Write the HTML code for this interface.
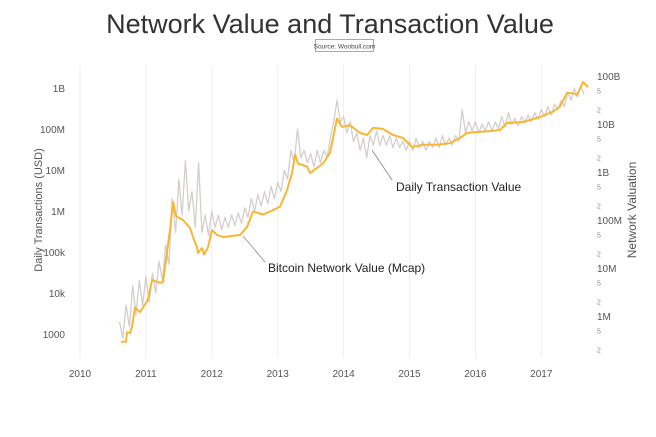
<!DOCTYPE html>
<html><head><meta charset="utf-8"><style>
body{margin:0;background:#fff;font-family:"Liberation Sans",sans-serif}
svg text{font-family:"Liberation Sans",sans-serif}
</style></head><body>
<svg id="c" width="656" height="432">
<text x="330" y="33" text-anchor="middle" font-size="27" fill="#333" font-weight="300">Network Value and Transaction Value</text>
<rect x="315.5" y="39.5" width="58" height="12" fill="#fff" stroke="#aaa"/>
<text x="344.5" y="48.5" text-anchor="middle" font-size="6.5" fill="#444">Source: Woobull.com</text>
<text transform="translate(42,210) rotate(-90)" text-anchor="middle" font-size="11" fill="#555">Daily Transactions (USD)</text>
<text transform="translate(636,210) rotate(-90)" text-anchor="middle" font-size="12" fill="#555">Network Valuation</text>
<g id="grid"></g><g id="axes"></g><g id="series"></g>
<line x1="372" y1="150" x2="392" y2="180" stroke="#888" stroke-width="0.8"/>
<text x="396" y="191" font-size="12" fill="#222">Daily Transaction Value</text>
<line x1="243" y1="236" x2="265" y2="262" stroke="#888" stroke-width="0.8"/>
<text x="268" y="272" font-size="12" fill="#222">Bitcoin Network Value (Mcap)</text>
</svg>
<script>
const xYears=[2010,2011,2012,2013,2014,2015,2016,2017];
const leftTicks=[1e3,1e4,1e5,1e6,1e7,1e8,1e9];
const leftTickLabels=["1000","10k","100k","1M","10M","100M","1B"];
const rightTicks=[1e6,1e7,1e8,1e9,1e10,1e11];
const rightTickLabels=["1M","10M","100M","1B","10B","100B"];
const txStart=2010.6;
const txStep=0.05;
const txValues=[2e3,8e2,5e3,1.5e3,1.5e4,3e3,2e4,5e3,
2.5e4,6e3,3e4,1e4,6e4,2e4,1.5e5,5e4,2e6,3e5,6e6,8e5,1.7e7,1e6,3e6,4e5,1.5e7,3e5,8e5,2.5e5,
1e6,4e5,8e5,3.5e5,7e5,4e5,8e5,4.5e5,9e5,5e5,1.2e6,7e5,2e6,1e6,2.5e6,1.3e6,3e6,1.5e6,4e6,2e6,
5e6,3e6,1e7,6e6,3e7,1.5e7,1e8,2e7,3e7,1.5e7,2.5e7,1.2e7,3e7,1.5e7,3e7,2e7,6e7,1.5e8,5e8,1.5e8,
2e8,8e7,1.5e8,5e7,8e7,3e7,6e7,2e7,7e7,4e7,9e7,4e7,7e7,4e7,7e7,3.5e7,6e7,3.5e7,5e7,3e7,
5e7,3e7,6e7,3.5e7,5e7,3e7,5e7,3.5e7,6e7,3.5e7,7e7,4e7,6e7,4e7,7e7,5e7,3e8,8e7,1.5e8,9e7,
1.5e8,8e7,1.3e8,9e7,1.5e8,9e7,1.5e8,1e8,2e8,1.1e8,2.5e8,1.3e8,1.8e8,1.2e8,2e8,1.4e8,2.2e8,1.5e8,2.5e8,1.7e8,
3e8,2e8,3.5e8,2.2e8,4e8,3e8,5e8,3.5e8,8e8,5e8,1e9,6e8,1.1e9,7e8];
const mcapYears=[2010.622,2010.698,2010.713,2010.759,2010.789,2010.835,2010.910,2010.956,2011.032,2011.093,2011.214,2011.259,2011.320,2011.366,2011.411,2011.457,2011.563,2011.669,2011.715,2011.775,2011.791,2011.851,2011.882,2011.942,2012.003,2012.079,2012.170,2012.428,2012.534,2012.625,2012.777,2012.929,2013.035,2013.141,2013.217,2013.263,2013.308,2013.445,2013.490,2013.687,2013.794,2013.900,2013.976,2014.097,2014.249,2014.355,2014.446,2014.598,2014.750,2014.901,2015.038,2015.205,2015.417,2015.615,2015.766,2015.873,2016.024,2016.222,2016.373,2016.480,2016.722,2016.980,2017.178,2017.284,2017.390,2017.481,2017.542,2017.633,2017.709];
const mcapValues=[2.9e5,2.9e5,4.6e5,4.4e5,5.9e5,1.5e6,1.2e6,1.5e6,2.2e6,5.6e6,4.9e6,5.1e6,2.05e7,6.2e7,2.4e8,1.2e8,1e8,6.8e7,4.4e7,2.7e7,2.05e7,2.6e7,1.9e7,2.7e7,6.2e7,4.9e7,4.4e7,4.9e7,7.1e7,1.5e8,1.3e8,1.6e8,1.9e8,4.2e8,9.5e8,2.3e9,1.5e9,1.3e9,9.5e8,1.5e9,2.5e9,1.3e10,8.7e9,9.5e9,6.5e9,5.9e9,8.3e9,7.9e9,5.9e9,5.1e9,3.3e9,3.7e9,3.7e9,4e9,5.1e9,6.5e9,6.8e9,7.1e9,7.5e9,1.05e10,1.1e10,1.4e10,1.8e10,2.3e10,4.4e10,4.4e10,4e10,7.5e10,5.9e10];

const NS="http://www.w3.org/2000/svg";
const X=y=>80+(y-2010)*65.9;
const YL=v=>334-41*Math.log10(v/1e3);
const YR=v=>316-48*Math.log10(v/1e6);
function mk(tag,attrs,parent,txt){const e=document.createElementNS(NS,tag);for(const k in attrs)e.setAttribute(k,attrs[k]);if(txt!==undefined)e.textContent=txt;parent.appendChild(e);return e;}
const grid=document.getElementById('grid'),axes=document.getElementById('axes'),series=document.getElementById('series');
xYears.forEach(y=>{
  const l=mk('line',{x1:X(y),x2:X(y),y1:65,y2:358,stroke:'#eee','stroke-width':1},grid);
  
  
  const t=mk('text',{x:X(y),y:377,'text-anchor':'middle','font-size':10,fill:'#555'},axes,String(y));
  
  
});
leftTicks.forEach((v,i)=>{
  const t=mk('text',{x:65,y:YL(v)+4,'text-anchor':'end','font-size':10,fill:'#555'},axes,leftTickLabels[i]);
  
  
});
rightTicks.forEach((v,i)=>{
  const t=mk('text',{x:597,y:YR(v)+4,'font-size':10,fill:'#555'},axes,rightTickLabels[i]);
  
  
  [5,2].forEach(m=>{const mv=v/10*m; if(mv<1.5e5) return;
    const s=mk('text',{x:597,y:YR(mv)+3,'font-size':7,fill:'#888'},axes,String(m));
    
    });
});
let d='';txValues.forEach((v,i)=>{d+=(i?'L':'M')+X(txStart+i*txStep).toFixed(1)+','+YL(v).toFixed(1);});
const tx=mk('path',{d:d,fill:'none',stroke:'#d6cdcd','stroke-width':1.3,'stroke-linejoin':'round'},series);


let d2='';mcapValues.forEach((v,i)=>{d2+=(i?'L':'M')+X(mcapYears[i]).toFixed(1)+','+YR(v).toFixed(1);});
const mc=mk('path',{d:d2,fill:'none',stroke:'#f7b733','stroke-width':2,'stroke-linejoin':'round'},series);


</script>
</body></html>
